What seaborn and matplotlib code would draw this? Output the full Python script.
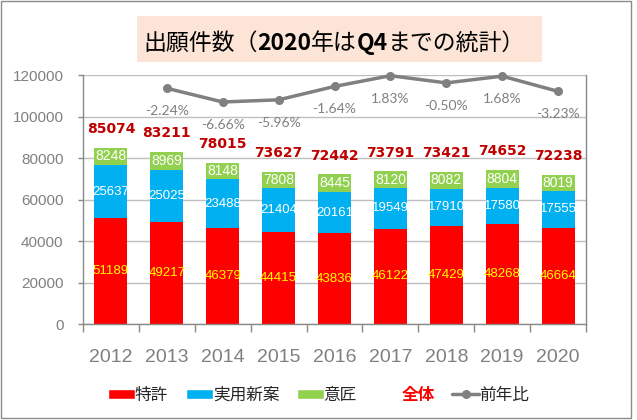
import numpy as np
import pandas as pd
import seaborn as sns
import matplotlib
matplotlib.use("Agg")
import matplotlib.pyplot as plt
from matplotlib.patches import Patch, Rectangle
from matplotlib.lines import Line2D

# data
years = [2012, 2013, 2014, 2015, 2016, 2017, 2018, 2019, 2020]
tokkyo = [51189, 49217, 46379, 44415, 43836, 46122, 47429, 48268, 46664]
jitsuyo = [25637, 25025, 23488, 21404, 20161, 19549, 17910, 17580, 17555]
isho = [8248, 8969, 8148, 7808, 8445, 8120, 8082, 8804, 8019]
zentai = [85074, 83211, 78015, 73627, 72442, 73791, 73421, 74652, 72238]
zennen_years = [2013, 2014, 2015, 2016, 2017, 2018, 2019, 2020]
zennen = [-2.24, -6.66, -5.96, -1.64, 1.83, -0.50, 1.68, -3.23]
yticks = [0, 20000, 40000, 60000, 80000, 100000, 120000]

title_parts = ['出願件数（', '2020', '年は', 'Q4', 'までの統計）']
title_weights = ['normal', 'bold', 'normal', 'bold', 'normal']
legend_labels = ['特許', '実用新案', '意匠', '全体', '前年比']

RED = '#FF0000'
BLUE = '#00B0F0'
GREEN = '#92D050'
GREY = '#808080'
DARKRED = '#C00000'
AXC = '#898989'

sns.set_style('white')
plt.rcParams['font.family'] = ['Liberation Sans', 'Noto Sans CJK JP']

df = pd.DataFrame({'year': years, 'tokkyo': tokkyo, 'jitsuyo': jitsuyo, 'isho': isho})
df['blue_top'] = df['tokkyo'] + df['jitsuyo']
df['green_top'] = df['blue_top'] + df['isho']

fig = plt.figure(figsize=(6.37, 4.2), dpi=100)
ax = fig.add_axes([83 / 637, 1 - 324.3 / 420, 503 / 637, 248.8 / 420])

# stacked bars drawn as overlapping cumulative bars
for col, c in [('green_top', GREEN), ('blue_top', BLUE), ('tokkyo', RED)]:
    sns.barplot(data=df, x='year', y=col, color=c, saturation=1, width=0.59,
                native_scale=True, errorbar=None, linewidth=0, ax=ax)

for i, r in df.iterrows():
    ax.text(r['year'], r['tokkyo'] / 2, str(r['tokkyo']), ha='center', va='center',
            color='#FFFF00', fontsize=9.5)
    ax.text(r['year'], r['tokkyo'] + r['jitsuyo'] / 2, str(r['jitsuyo']), ha='center',
            va='center', color='white', fontsize=9.5)
    ax.text(r['year'], r['blue_top'] + r['isho'] / 2, str(r['isho']), ha='center',
            va='center', color='white', fontsize=10)

for y, z in zip(years, zentai):
    ax.annotate(str(z), (y, z), xytext=(0, 10.5), textcoords='offset points',
                ha='center', va='baseline', color=DARKRED, fontweight='bold',
                fontsize=10, family='DejaVu Sans')

ax.set_ylim(0, 120000)
ax.set_yticks(yticks, labels=[str(v) for v in yticks])
ax.set_xlim(years[0] - 0.5, years[-1] + 0.5)
ax.set_xticks(years, labels=[str(y) for y in years])
ax.set_xticks([y - 0.5 for y in years] + [years[-1] + 0.5], minor=True)
ax.set_xlabel('')
ax.set_ylabel('')
ax.yaxis.grid(True, color='#BFBFBF', lw=1)
ax.set_axisbelow(True)
ax.tick_params(axis='y', which='major', direction='out', length=3.6, width=1,
               color=AXC, labelcolor=GREY, labelsize=11, pad=10.5, left=True)
ax.tick_params(axis='x', which='major', length=0, labelcolor=GREY, labelsize=14, pad=18)
ax.tick_params(axis='x', which='minor', direction='out', length=5.8, width=1,
               color=AXC, bottom=True)
for s in ['top', 'right']:
    ax.spines[s].set_visible(False)
for s in ['left', 'bottom']:
    ax.spines[s].set_color(AXC)
    ax.spines[s].set_linewidth(1)

# 前年比 on a hidden secondary axis
ax2 = ax.twinx()
sns.lineplot(x=zennen_years, y=zennen, ax=ax2, color=GREY, lw=2.5, marker='o',
             markersize=6.5, markeredgewidth=0, clip_on=False, legend=False)
for y, p in zip(zennen_years, zennen):
    ax2.annotate(f'{p:.2f}%', (y, p), xytext=(0, -19.4), textcoords='offset points',
                 ha='center', va='baseline', color=GREY, fontsize=10, family='Lato')
ax2.set_ylim(-78.4, 1.89)
ax2.set_yticks([])
ax2.set_ylabel('')
for s in ['top', 'left', 'bottom']:
    ax2.spines[s].set_visible(False)
ax2.spines['right'].set_color(AXC)
ax2.spines['right'].set_linewidth(1)

# outer frame and title box
fig.add_artist(Rectangle((1 / 637, 2 / 420), 630 / 637, 417 / 420, transform=fig.transFigure,
                         fill=False, edgecolor='#8C8C8C', lw=1))
fig.add_artist(Rectangle((137 / 637, 1 - 62 / 420), 405 / 637, 46 / 420,
                         transform=fig.transFigure, facecolor='#FCE4D6', edgecolor='none'))

renderer = fig.canvas.get_renderer()
tx = 143 / 637
for part, w in zip(title_parts, title_weights):
    t = fig.text(tx, 1 - 49.7 / 420, part, fontsize=16.5, fontweight=w,
                 family=['Noto Sans CJK JP'], ha='left', va='baseline', color='black')
    tx += t.get_window_extent(renderer).width / fig.bbox.width

handles = [Patch(facecolor=RED), Patch(facecolor=BLUE), Patch(facecolor=GREEN),
           Patch(facecolor='none', edgecolor='none'),
           Line2D([], [], color=GREY, lw=2.5, marker='o', markersize=6.5, markeredgewidth=0)]
leg = fig.legend(handles, legend_labels, loc='center', bbox_to_anchor=(0.5, 1 - 395 / 420),
                 ncol=5, frameon=False, handlelength=1.62, handleheight=0.6,
                 handletextpad=0.0, columnspacing=1.05,
                 prop={'family': 'Noto Sans CJK JP', 'size': 12})
leg.get_texts()[3].set_color('red')
leg.get_texts()[3].set_fontweight('bold')

fig.savefig('out.png', dpi=100)
